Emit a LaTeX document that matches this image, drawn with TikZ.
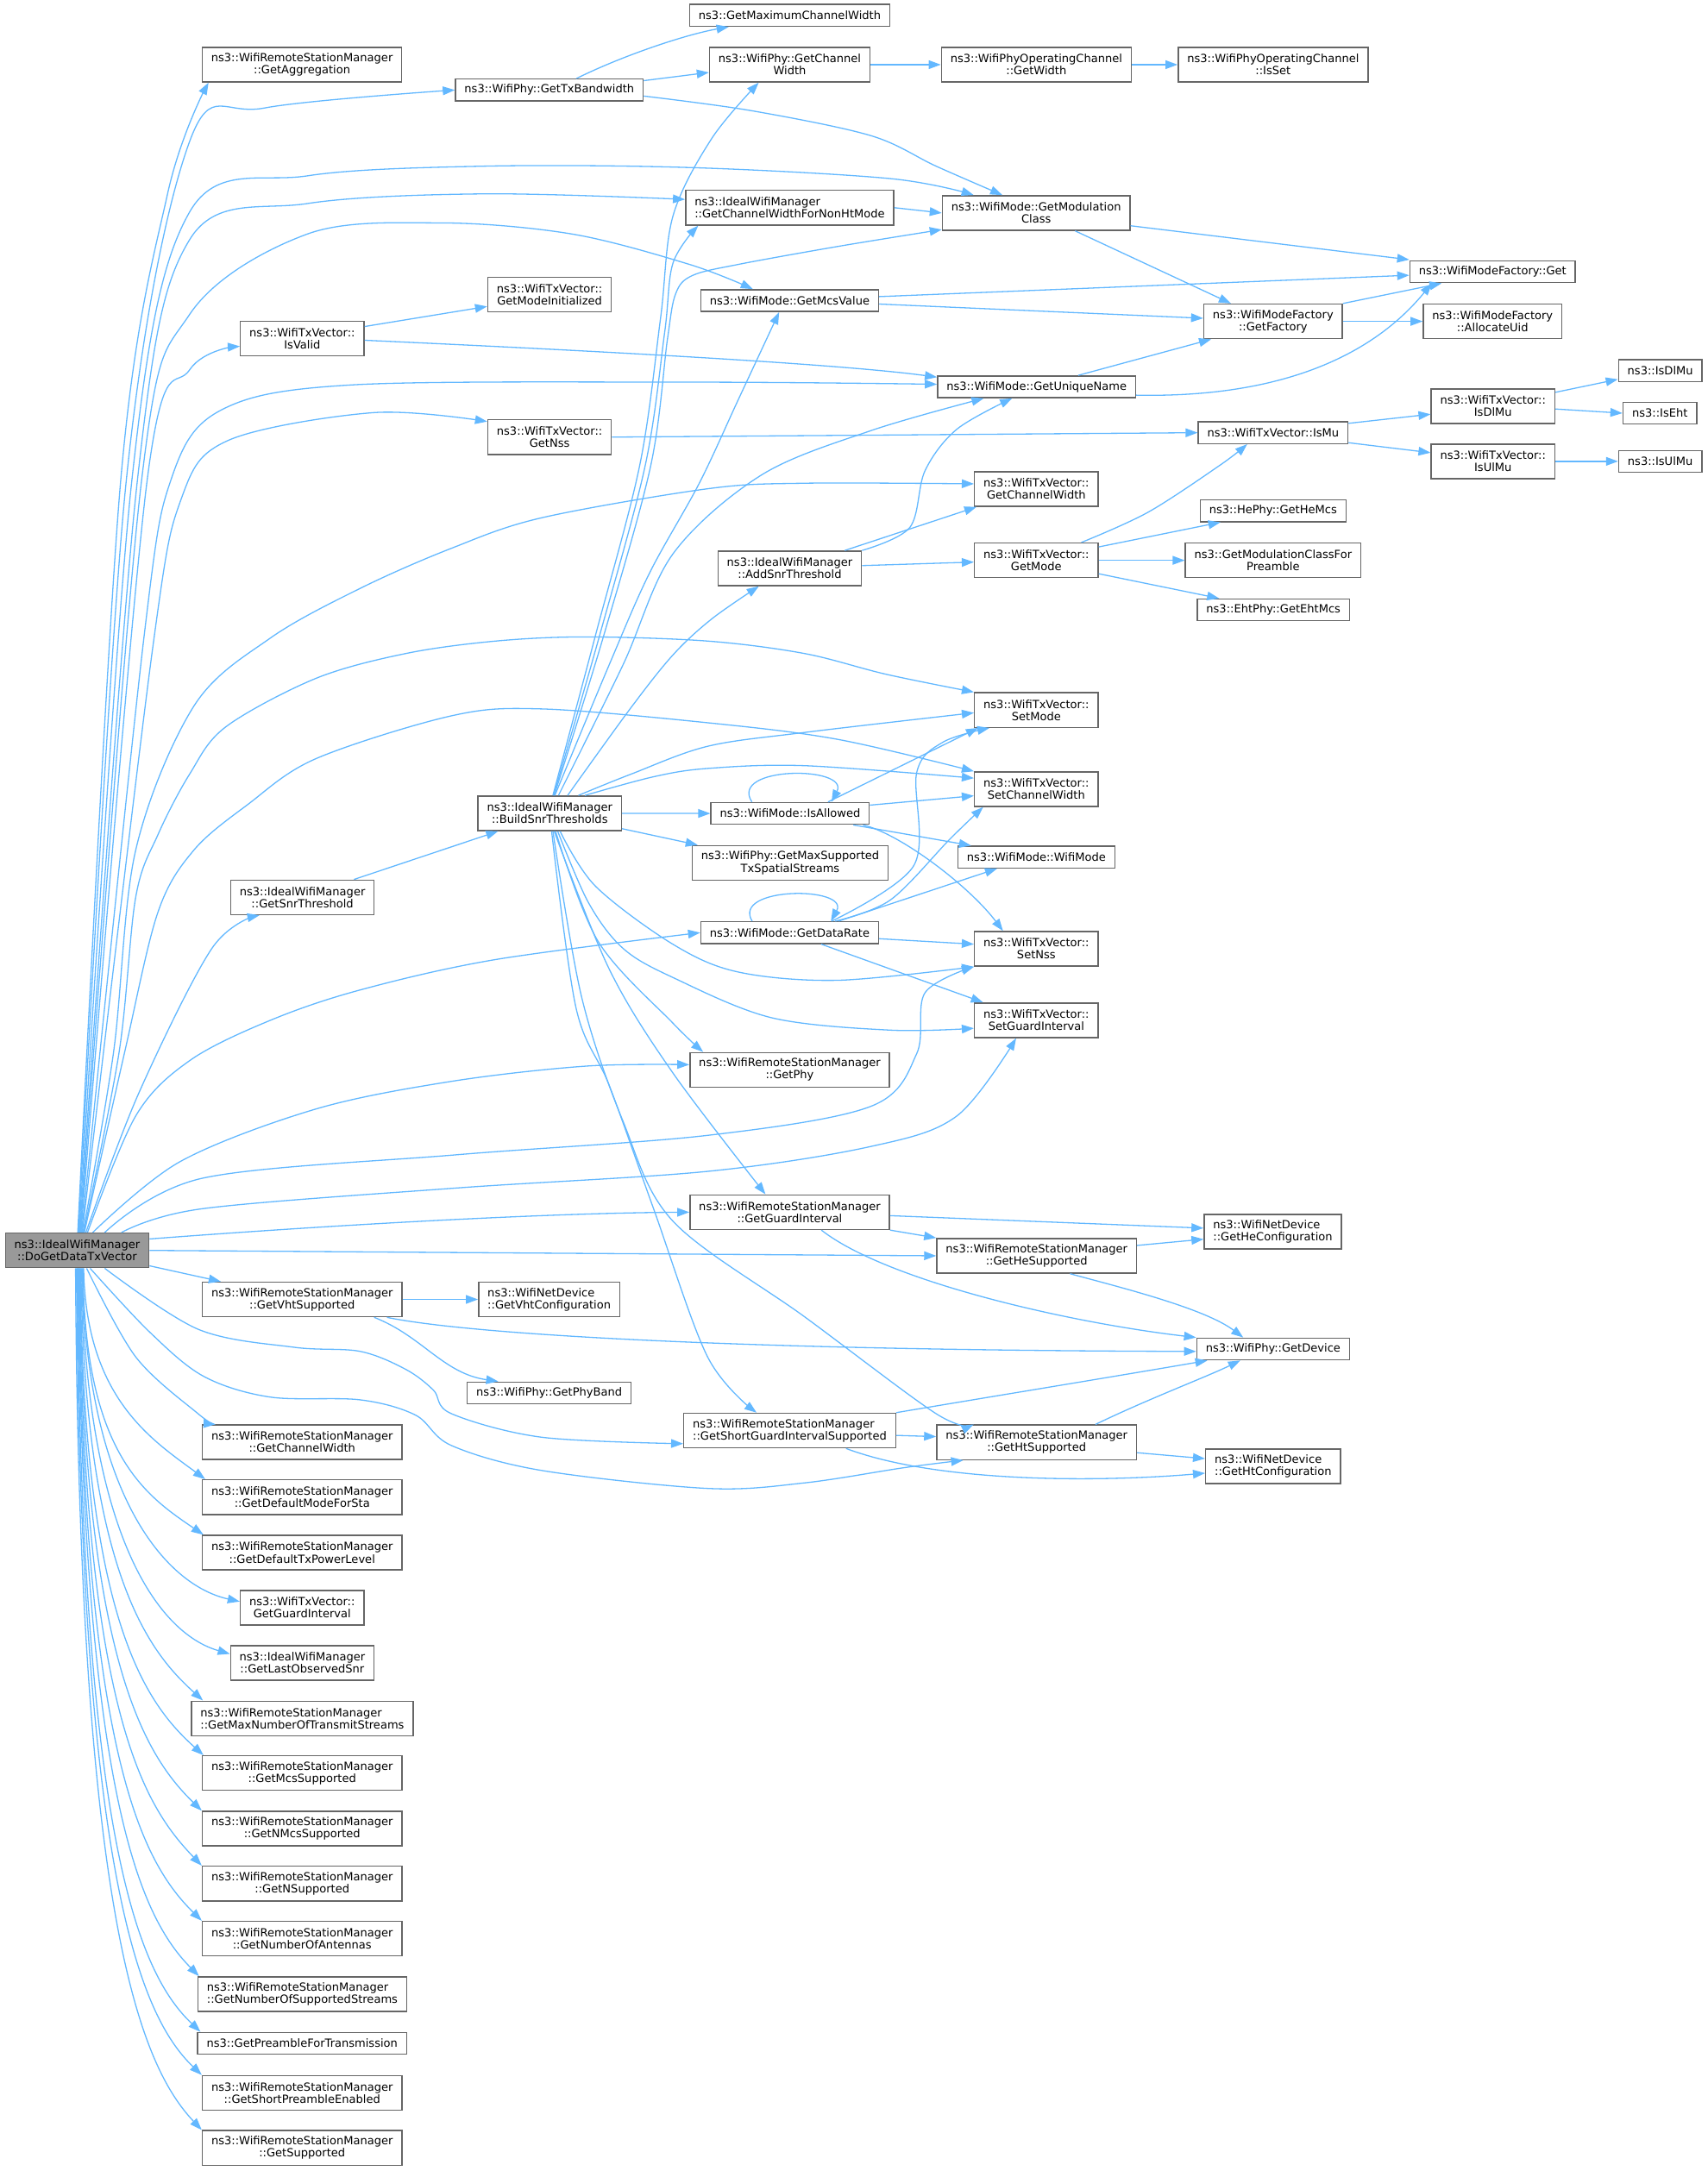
\documentclass[tikz,border=0pt]{standalone}
\usepackage{fontspec}
\setmainfont{DejaVu Sans}
\usepackage{xcolor}
\usetikzlibrary{arrows.meta}

\definecolor{callblue}{HTML}{63B8FF}
\definecolor{boxline}{HTML}{666666}
\definecolor{rootgray}{HTML}{999999}

\begin{document}
\begin{tikzpicture}[
  x=0.8pt, y=-0.8pt,
  fn/.style={rectangle, draw=boxline, line width=0.7pt, fill=white,
             font=\fontsize{6.5}{7}\selectfont, align=center,
             inner xsep=5.2pt, inner ysep=0pt, minimum height=20pt},
  fnl/.style={fn, align=left},
  fnone/.style={fn, minimum height=12.6pt},
  call/.style={draw=callblue, line width=0.65pt,
               -{Triangle[length=7pt, width=5pt]}},
  wave/.style={smooth, tension=0.55}
]
\useasboundingbox (0,0) rectangle (1233,1568);

% Caller
\node[fn, fill=rootgray] (root) at (55.7,903.1) {ns3::IdealWifiManager\\::DoGetDataTxVector};

% Second column
\node[fn] (aggr) at (218.1,46.7) {ns3::WifiRemoteStationManager\\::GetAggregation};
\node[fnone] (txbw) at (396.7,65) {ns3::WifiPhy::GetTxBandwidth};
\node[fn] (isvalid) at (218.3,244.5) {ns3::WifiTxVector::\\IsValid};
\node[fn] (modeinit) at (396.9,212.7) {ns3::WifiTxVector::\\GetModeInitialized};
\node[fn] (getnss) at (396.9,315.7) {ns3::WifiTxVector::\\GetNss};
\node[fn] (build) at (397,587.4) {ns3::IdealWifiManager\\::BuildSnrThresholds};
\node[fn] (snrth) at (218.4,648.1) {ns3::IdealWifiManager\\::GetSnrThreshold};
\node[fn] (vhtsup) at (218.2,938.5) {ns3::WifiRemoteStationManager\\::GetVhtSupported};
\node[fnl] (vhtconf) at (396.6,938.5) {ns3::WifiNetDevice\\::GetVhtConfiguration};
\node[fnone] (phyband) at (396.6,1006) {ns3::WifiPhy::GetPhyBand};

% Lower left column
\node[fn] (rsmcw) at (218.2,1041.6) {ns3::WifiRemoteStationManager\\::GetChannelWidth};
\node[fn] (defmode) at (218.2,1081.3) {ns3::WifiRemoteStationManager\\::GetDefaultModeForSta};
\node[fn] (defpow) at (218.2,1121.4) {ns3::WifiRemoteStationManager\\::GetDefaultTxPowerLevel};
\node[fn] (txgi) at (218.2,1161.2) {ns3::WifiTxVector::\\GetGuardInterval};
\node[fn] (lastsnr) at (218.3,1201) {ns3::IdealWifiManager\\::GetLastObservedSnr};
\node[fnl] (maxstreams) at (218.3,1241.1) {ns3::WifiRemoteStationManager\\::GetMaxNumberOfTransmitStreams};
\node[fn] (mcssup) at (218.2,1280.6) {ns3::WifiRemoteStationManager\\::GetMcsSupported};
\node[fn] (nmcssup) at (218.2,1320.7) {ns3::WifiRemoteStationManager\\::GetNMcsSupported};
\node[fn] (nsup) at (218.2,1360.4) {ns3::WifiRemoteStationManager\\::GetNSupported};
\node[fn] (nant) at (218.2,1400.2) {ns3::WifiRemoteStationManager\\::GetNumberOfAntennas};
\node[fnl] (nstreams) at (218.3,1440.2) {ns3::WifiRemoteStationManager\\::GetNumberOfSupportedStreams};
\node[fnone] (preamble) at (218.2,1475.8) {ns3::GetPreambleForTransmission};
\node[fn] (shortpre) at (218.2,1511.6) {ns3::WifiRemoteStationManager\\::GetShortPreambleEnabled};
\node[fn] (supported) at (218.2,1551.3) {ns3::WifiRemoteStationManager\\::GetSupported};

% Third column
\node[fnone] (maxcw) at (570.3,11.1) {ns3::GetMaximumChannelWidth};
\node[fn] (phycw) at (570.3,46.7) {ns3::WifiPhy::GetChannel\\Width};
\node[fnl] (nonht) at (570.3,150) {ns3::IdealWifiManager\\::GetChannelWidthForNonHtMode};
\node[fnone] (mcsval) at (570.3,217.1) {ns3::WifiMode::GetMcsValue};
\node[fn] (addsnr) at (570.3,410.5) {ns3::IdealWifiManager\\::AddSnrThreshold};
\node[fnone] (allowed) at (570.6,587.5) {ns3::WifiMode::IsAllowed};
\node[fn] (maxss) at (570.6,623.2) {ns3::WifiPhy::GetMaxSupported\\TxSpatialStreams};
\node[fnone] (datarate) at (570.3,673.6) {ns3::WifiMode::GetDataRate};
\node[fn] (getphy) at (570.3,772.7) {ns3::WifiRemoteStationManager\\::GetPhy};
\node[fn] (rsmgi) at (570.3,875.5) {ns3::WifiRemoteStationManager\\::GetGuardInterval};
\node[fnl] (sgisup) at (570.3,1033.2) {ns3::WifiRemoteStationManager\\::GetShortGuardIntervalSupported};

% Fourth column
\node[fn] (opwidth) at (748.4,46.7) {ns3::WifiPhyOperatingChannel\\::GetWidth};
\node[fn] (modcls) at (748.3,153.8) {ns3::WifiMode::GetModulation\\Class};
\node[fnone] (uname) at (748.6,279.4) {ns3::WifiMode::GetUniqueName};
\node[fn] (txcw) at (748.4,353.2) {ns3::WifiTxVector::\\GetChannelWidth};
\node[fn] (getmode) at (748.4,404.7) {ns3::WifiTxVector::\\GetMode};
\node[fn] (setmode) at (748.4,512.8) {ns3::WifiTxVector::\\SetMode};
\node[fn] (setcw) at (748.4,570) {ns3::WifiTxVector::\\SetChannelWidth};
\node[fnone] (wmode) at (748.4,619) {ns3::WifiMode::WifiMode};
\node[fn] (setnss) at (748.4,685.3) {ns3::WifiTxVector::\\SetNss};
\node[fn] (setgi) at (748.4,736.9) {ns3::WifiTxVector::\\SetGuardInterval};
\node[fn] (hesup) at (748.6,907) {ns3::WifiRemoteStationManager\\::GetHeSupported};
\node[fn] (htsup) at (748.6,1041.7) {ns3::WifiRemoteStationManager\\::GetHtSupported};

% Fifth column and beyond
\node[fn] (opset) at (919.4,46.7) {ns3::WifiPhyOperatingChannel\\::IsSet};
\node[fn] (factory) at (919.4,232.1) {ns3::WifiModeFactory\\::GetFactory};
\node[fnone] (ismu) at (919.4,312.5) {ns3::WifiTxVector::IsMu};
\node[fnone] (hemcs) at (919.4,368.9) {ns3::HePhy::GetHeMcs};
\node[fn] (modpre) at (919.4,404.7) {ns3::GetModulationClassFor\\Preamble};
\node[fnone] (ehtmcs) at (919.6,440.5) {ns3::EhtPhy::GetEhtMcs};
\node[fnl] (heconf) at (919.2,889.5) {ns3::WifiNetDevice\\::GetHeConfiguration};
\node[fnone] (device) at (919.4,974.3) {ns3::WifiPhy::GetDevice};
\node[fnl] (htconf) at (919.4,1059.1) {ns3::WifiNetDevice\\::GetHtConfiguration};
\node[fnone] (mfget) at (1077.9,196.3) {ns3::WifiModeFactory::Get};
\node[fn] (allocuid) at (1077.9,232.1) {ns3::WifiModeFactory\\::AllocateUid};
\node[fn] (isdlmuv) at (1078.2,293.4) {ns3::WifiTxVector::\\IsDlMu};
\node[fn] (isulmuv) at (1078.2,333.2) {ns3::WifiTxVector::\\IsUlMu};
\node[fnone] (isdlmu) at (1199,267.7) {ns3::IsDlMu};
\node[fnone] (iseht) at (1198.7,298.4) {ns3::IsEht};
\node[fnone] (isulmu) at (1199,333.2) {ns3::IsUlMu};

% Calls from the caller, upward fan
\draw[call] plot[wave] coordinates {(root.88) (87,349) (121,140) ([xshift=4pt]aggr.south west)};
\draw[call] plot[wave] coordinates {(root.86) (91,349) (137,102) (191,78) (txbw.west)};
\draw[call] plot[wave] coordinates {(root.84) (95,349) (137,153) (222,127) (350,120) (498,121) (643,129) ([xshift=18.4pt]modcls.north west)};
\draw[call] plot[wave] coordinates {(root.82) (99,349) (137,173) (222,147) (350,140) ([yshift=4.8pt]nonht.west)};
\draw[call] plot[wave] coordinates {(root.80) (102,349) (137,227) (222,169) (318,161) (413,169) (498,191) ([xshift=30.4pt]mcsval.north west)};
\draw[call] plot[wave] coordinates {(root.78) (106,349) (137,267) ([yshift=-4.5pt]isvalid.west)};
\draw[call] plot[wave] coordinates {(root.76) (104,460) (124,345) (160,296) (254,278) (498,276) ([yshift=1.5pt]uname.west)};
\draw[call] plot[wave] coordinates {(root.74) (110,470) (131,360) (165,318) (270,298) ([yshift=9pt]getnss.west)};
\draw[call] plot[wave] coordinates {(root.72) (82,760) (98,614) (140,510) (195,461) (260,425) (326,396) (391,374) (511,353) (581,349) ([yshift=3pt]txcw.west)};
\draw[call] plot[wave] coordinates {(root.70) (86,760) (98,648) (114,603) (137,559) (163,525) (228,490) (293,472) (358,463) (423,460) (511,463) (581,472) (640,487) (setmode.north west)};
\draw[call] plot[wave] coordinates {(root.68) (90,760) (114,659) (140,614) (179,581) (228,548) (326,517) (391,512) (511,522) (605,534) (setcw.north west)};
\draw[call] plot[wave] coordinates {(root.64) (100,790) (153,685) ([xshift=17pt]snrth.south west)};
\draw[call] plot[wave] coordinates {(root.60) (98,806) (137,766) (195,737) (260,715) (358,693) (datarate.west)};
\draw[call] plot[wave] coordinates {(root.49) (130,839) (228,801) (326,781) (423,770) ([yshift=3pt]getphy.west)};
\draw[call] plot[wave] coordinates {(root.33) (146,851) (330,834) (511,820) (629,799) (662,761) (668,717) (setnss.south west)};
\draw[call] plot[wave] coordinates {(root.22) (146,873) (330,858) (511,846) (629,828) (691,806) ([xshift=24.4pt]setgi.south west)};

% Calls from the caller, to the right
\draw[call] (root.9) .. controls (250,884) and (400,876) .. (rsmgi.west);
\draw[call] (root.east) -- (hesup.west);
\draw[call] (root.-12) -- ([xshift=11pt]vhtsup.north west);

% Calls from the caller, downward fan
\draw[call] plot[wave] coordinates {(root.-33) (143,960) (212,973) (260,976) (293,989) (313,1004) (326,1021) (391,1038) ([yshift=-7.6pt]sgisup.west)};
\draw[call] plot[wave] coordinates {(root.-54) (108,962) (147,994) (195,1009) (260,1011) (300,1022) (326,1044) (391,1062) (511,1075) (581,1071) (653,1060) ([xshift=15.6pt]htsup.south west)};
\draw[call] plot[wave] coordinates {(root.-62) (98,980) (143,1021) ([xshift=8pt]rsmcw.north west)};
\draw[call] (root.-70) .. controls (62,1010) and (110,1040) .. ([xshift=2pt]defmode.north west);
\draw[call] (root.-72) .. controls (61,1050) and (105,1080) .. ([xshift=1pt]defpow.north west);
\draw[call] (root.-74) .. controls (62,1080) and (120,1145) .. ([yshift=3.6pt]txgi.west);
\draw[call] (root.-76) .. controls (62,1110) and (115,1180) .. ([yshift=5.2pt]lastsnr.west);
\draw[call] (root.-78) .. controls (61,1140) and (110,1195) .. ([xshift=7pt]maxstreams.north west);
\draw[call] (root.-80) .. controls (60,1170) and (105,1230) .. ([xshift=1pt]mcssup.north west);
\draw[call] (root.-82) .. controls (60,1200) and (105,1268) .. (nmcssup.north west);
\draw[call] (root.-84) .. controls (60,1240) and (105,1305) .. (nsup.north west);
\draw[call] (root.-86) .. controls (60,1270) and (103,1345) .. (nant.north west);
\draw[call] (root.-88) .. controls (60,1300) and (102,1385) .. ([xshift=1pt]nstreams.north west);
\draw[call] (root.-90) .. controls (59,1330) and (100,1425) .. ([xshift=2pt]preamble.north west);
\draw[call] (root.-92) .. controls (58,1350) and (100,1455) .. (shortpre.north west);
\draw[call] (root.-95) .. controls (57,1380) and (100,1490) .. (supported.north west);

% BuildSnrThresholds
\draw[call] ([xshift=-12pt]snrth.north east) -- ([xshift=12pt]build.south west);
\draw[call] plot[wave] coordinates {(build.80) (430,459) (462,336) (477,230) (486,156) (514,100) ([xshift=28.8pt]phycw.south west)};
\draw[call] plot[wave] coordinates {(build.78) (433,459) (466,336) (480,240) (486,190) ([xshift=7.6pt]nonht.south west)};
\draw[call] plot[wave] coordinates {(build.76) (436,459) (470,336) (482,245) (488,212) (500,199) (533,191) (605,178) ([yshift=-9.6pt]modcls.west)};
\draw[call] plot[wave] coordinates {(build.74) (440,480) (469,414) (505,349) (533,289) ([xshift=45.6pt]mcsval.south west)};
\draw[call] plot[wave] coordinates {(build.64) (450,480) (486,400) (550,343) (629,311) ([xshift=27pt]uname.south west)};
\draw[call] plot[wave] coordinates {(build.45) (455,512) (486,473) (514,447) ([xshift=24pt]addsnr.south west)};
\draw[call] plot[wave] coordinates {(build.32) (456,559) (511,539) (581,529) ([yshift=-1.6pt]setmode.west)};
\draw[call] plot[wave] coordinates {(build.27) (472,561) (511,555) (581,553) ([yshift=6.4pt]setcw.west)};
\draw[call] (build.east) -- (allowed.west);
\draw[call] (build.-12) -- ([xshift=3.6pt]maxss.north west);
\draw[call] plot[wave] coordinates {(build.-60) (430,640) (486,682) (533,702) (605,708) (setnss.south west)};
\draw[call] plot[wave] coordinates {(build.-66) (425,652) (450,685) (486,706) (557,735) (643,744) ([yshift=-4.6pt]setgi.west)};
\draw[call] plot[wave] coordinates {(build.-72) (432,680) (486,739) ([xshift=8pt]getphy.north west)};
\draw[call] plot[wave] coordinates {(build.-76) (440,700) (486,775) ([xshift=44pt]rsmgi.north west)};
\draw[call] plot[wave] coordinates {(build.-80) (420,720) (450,810) (486,882) (581,951) (676,1021) ([xshift=21.6pt]htsup.north west)};
\draw[call] plot[wave] coordinates {(build.-84) (416,728) (440,784) (472,873) (511,980) ([xshift=42.4pt]sgisup.north west)};

% IsAllowed and GetDataRate
\draw[call] ([xshift=24pt]allowed.north west) .. controls (526,553) and (614,553) .. ([xshift=70pt]allowed.north west);
\draw[call] ([xshift=68pt]allowed.north west) -- ([xshift=2.4pt]setmode.south west);
\draw[call] ([yshift=4.8pt]allowed.east) -- ([yshift=-3.8pt]setcw.west);
\draw[call] ([xshift=-9.6pt]allowed.south east) -- ([xshift=8pt]wmode.north west);
\draw[call] ([xshift=-4pt]allowed.south east) .. controls (650,602) and (700,640) .. ([xshift=16.8pt]setnss.north west);
\draw[call] ([xshift=30pt]datarate.north west) .. controls (528,640) and (614,640) .. ([xshift=75.5pt]datarate.north west);
\draw[call] plot[wave] coordinates {([xshift=76pt]datarate.north west) (660,625) (662,558) (681,536) ([xshift=9pt]setmode.south west)};
\draw[call] plot[wave] coordinates {([xshift=78pt]datarate.north west) (643,650) (686,606) ([xshift=5.3pt]setcw.south west)};
\draw[call] ([xshift=80pt]datarate.north west) -- ([xshift=23pt]wmode.south west);
\draw[call] ([yshift=-3.5pt]datarate.east) -- ([yshift=2.7pt]setnss.west);
\draw[call] ([xshift=-33.5pt]datarate.south east) -- ([xshift=5.3pt]setgi.north west);

% AddSnrThreshold and GetMode
\draw[call] plot[wave] coordinates {(addsnr.north east) (657,381) (668,340) (691,310) ([xshift=43.4pt]uname.south west)};
\draw[call] ([xshift=-10pt]addsnr.north east) -- ([xshift=1.5pt]txcw.south west);
\draw[call] ([yshift=1.6pt]addsnr.east) -- ([yshift=-1pt]getmode.west);
\draw[call] plot[wave] coordinates {([xshift=-10pt]getmode.north east) (829,370) (881,336) ([xshift=28.6pt]ismu.south west)};
\draw[call] ([yshift=-2.6pt]getmode.north east) -- ([xshift=12pt]hemcs.south west);
\draw[call] (getmode.east) -- (modpre.west);
\draw[call] ([yshift=2.6pt]getmode.south east) -- ([xshift=13pt]ehtmcs.north west);

% Upper part
\draw[call] ([yshift=-3.4pt]isvalid.north east) -- ([yshift=-6.9pt]modeinit.west);
\draw[call] ([yshift=-1pt]isvalid.east) .. controls (400,252) and (600,262) .. ([yshift=5.6pt]uname.west);
\draw[call] (getnss.east) -- (ismu.west);
\draw[call] ([xshift=70.2pt]txbw.north west) .. controls (450,40) and (495,25) .. ([xshift=22.9pt]maxcw.south west);
\draw[call] ([yshift=5.4pt]txbw.east) -- ([yshift=-4.5pt]phycw.west);
\draw[call] plot[wave] coordinates {([yshift=-3.5pt]txbw.east) (543,80) (629,98) (676,120) ([xshift=35pt]modcls.north west)};
\draw[call] (phycw.east) -- (opwidth.west);
\draw[call] (opwidth.east) -- (opset.west);
\draw[call] (nonht.east) -- (modcls.west);
\draw[call] ([yshift=-7.4pt]modcls.east) -- ([yshift=7pt]mfget.west);
\draw[call] ([xshift=77pt]modcls.south west) -- ([xshift=16pt]factory.north west);
\draw[call] ([yshift=2.3pt]mcsval.east) -- ([yshift=-2pt]mfget.west);
\draw[call] ([yshift=-2pt]mcsval.east) -- ([yshift=1.8pt]factory.west);
\draw[call] (factory.north east) -- ([xshift=18.7pt]mfget.south west);
\draw[call] (factory.east) -- (allocuid.west);
\draw[call] ([xshift=81.6pt]uname.north west) -- ([xshift=4.6pt]factory.south west);
\draw[call] ([yshift=-4.8pt]uname.east) .. controls (950,288) and (1005,240) .. ([xshift=13pt]mfget.south west);
\draw[call] ([yshift=5.4pt]ismu.east) -- ([yshift=-4.6pt]isdlmuv.west);
\draw[call] ([yshift=-5.8pt]ismu.east) -- ([yshift=5pt]isulmuv.west);
\draw[call] ([yshift=-2.3pt]isdlmuv.north east) -- ([yshift=-5pt]isdlmu.west);
\draw[call] ([yshift=-1.6pt]isdlmuv.east) -- (iseht.west);
\draw[call] (isulmuv.east) -- (isulmu.west);

% Lower part
\draw[call] ([yshift=-2pt]rsmgi.east) -- ([yshift=2pt]heconf.west);
\draw[call] (rsmgi.south east) -- (hesup.north west);
\draw[call] ([xshift=76.3pt]rsmgi.south west) .. controls (640,925) and (770,955) .. (device.north west);
\draw[call] ([yshift=6pt]hesup.east) -- ([yshift=-4.4pt]heconf.west);
\draw[call] ([xshift=77.3pt]hesup.south west) .. controls (810,930) and (870,945) .. ([xshift=27.2pt]device.north west);
\draw[call] (vhtsup.east) -- (vhtconf.west);
\draw[call] ([xshift=-16.4pt]vhtsup.south east) .. controls (305,965) and (320,992) .. ([xshift=18.2pt]phyband.north west);
\draw[call] ([xshift=-9pt]vhtsup.south east) .. controls (330,962) and (500,975) .. ([yshift=-1.4pt]device.west);
\draw[call] (sgisup.north east) .. controls (720,1008) and (800,995) .. ([xshift=6.5pt]device.south west);
\draw[call] ([yshift=-2.8pt]sgisup.east) -- ([yshift=3.3pt]htsup.west);
\draw[call] ([xshift=-29pt]sgisup.south east) .. controls (680,1072) and (800,1070) .. ([yshift=-3.9pt]htconf.west);
\draw[call] ([xshift=92pt]htsup.north west) .. controls (830,1010) and (870,995) .. ([xshift=25.5pt]device.south west);
\draw[call] ([yshift=-6pt]htsup.east) -- ([yshift=4.5pt]htconf.west);

\end{tikzpicture}
\end{document}
